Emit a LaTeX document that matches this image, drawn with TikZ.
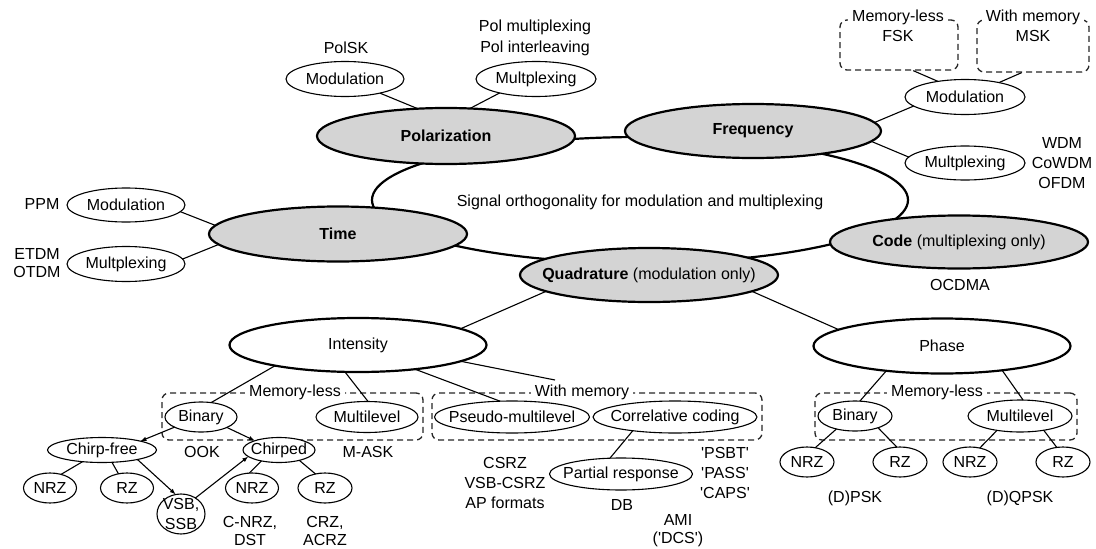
\documentclass[tikz,border=0pt]{standalone}
\usepackage{fontspec}
\setmainfont{Liberation Sans}
\usetikzlibrary{shapes.geometric,arrows.meta}
\definecolor{ellgray}{gray}{0.83}
\definecolor{dashc}{gray}{0.15}
\newcommand\mb[1]{\makebox[0pt]{#1}}
\newcommand\sq{\textquotesingle}
\begin{document}
\begin{tikzpicture}[x=1pt,y=-1pt,
  font=\fontsize{16}{20}\selectfont,
  sz/.style 2 args={minimum width=#1pt,minimum height=#2pt},
  elbase/.style={ellipse,inner sep=0pt,outer sep=0pt},
  sm/.style={elbase,draw,line width=1.1pt,fill=white},
  gr/.style={elbase,draw,line width=2.2pt,fill=ellgray},
  wh/.style={elbase,draw,line width=2.2pt,fill=white},
  dbox/.style={draw=dashc,dash pattern=on 6pt off 4pt,line width=1.3pt,rounded corners=7pt,inner sep=0pt},
  boxlab/.style={fill=white,inner xsep=4pt,inner ysep=1pt},
  lbl/.style={align=center,inner sep=0pt},
  lbltight/.style={lbl,font=\fontsize{16}{18}\selectfont},
  con/.style={line width=1.1pt},
  arr/.style={con,-{Latex[length=6pt,width=4.5pt]}},
]
\useasboundingbox (0,0) rectangle (1096,549);

% central ellipse
\node[wh,sz={536}{126}] (big) at (640,200) {};
\node[lbl] (bigt) at (640,202) {Signal orthogonality for modulation and multiplexing};

% main categories
\node[gr,sz={258}{56}] (pol) at (446,136) {\mb{\textbf{Polarization}}};
\node[gr,sz={256}{54}] (freq) at (753,131) {\mb{\textbf{Frequency}}};
\node[gr,sz={258}{55}] (time) at (338,234) {\mb{\textbf{Time}}};
\node[gr,sz={258}{54}] (quad) at (649,275) {\mb{\textbf{Quadrature} (modulation only)}};
\node[gr,sz={258}{53}] (code) at (959,242) {\mb{\textbf{Code} (multiplexing only)}};
\node[wh,sz={257}{54}] (int) at (358,345) {\mb{Intensity}};
\node[wh,sz={257}{55}] (phase) at (942,346) {\mb{Phase}};

% top small ellipses
\node[sm,sz={118}{35}] (pmod) at (345,79) {\mb{Modulation}};
\node[sm,sz={120}{35}] (pmux) at (536,79) {\mb{Multplexing}};
\node[sm,sz={120}{35}] (fmod) at (965,97) {\mb{Modulation}};
\node[sm,sz={120}{34}] (fmux) at (965,163) {\mb{Multplexing}};
\node[sm,sz={118}{34}] (tmod) at (126,205) {\mb{Modulation}};
\node[sm,sz={118}{35}] (tmux) at (126,264) {\mb{Multplexing}};

% frequency dashed boxes
\node[dbox,sz={118}{50}] (fsk) at (899,45) {};
\node[dbox,sz={112}{52}] (msk) at (1033,46) {};
\node[boxlab] (fsklab) at (898,17) {Memory-less};
\node[lbl] (fskt) at (898,36) {FSK};
\node[boxlab] (msklab) at (1033,17) {With memory};
\node[lbl] (mskt) at (1033,36) {MSK};

% bottom dashed boxes
\node[dbox,sz={261}{47}] (imlbox) at (292.5,416.5) {};
\node[dbox,sz={330}{47}] (iwmbox) at (597,416.5) {};
\node[dbox,sz={262}{47}] (pmlbox) at (946,416.5) {};
\node[boxlab] (imllab) at (295,392) {Memory-less};
\node[boxlab] (iwmlab) at (582,392) {With memory};
\node[boxlab] (pmllab) at (937,392) {Memory-less};

% intensity children
\node[sm,sz={72}{30}] (ibin) at (201,417) {\mb{Binary}};
\node[sm,sz={102}{31}] (imul) at (367,417) {\mb{Multilevel}};
\node[sm,sz={155}{32}] (pseudo) at (512,417) {\mb{Pseudo-multilevel}};
\node[sm,sz={164}{32}] (corr) at (675,417) {\mb{Correlative coding}};
\node[sm,sz={143}{32}] (partial) at (621,474) {\mb{Partial response}};
\node[sm,sz={109}{25}] (cfree) at (102,450) {\mb{Chirp-free}};
\node[sm,sz={72}{25}] (chirped) at (279,450) {\mb{Chirped}};
\node[sm,sz={53}{30}] (nrza) at (50,488) {\mb{NRZ}};
\node[sm,sz={53}{30}] (rza) at (127,488) {\mb{RZ}};
\node[sm,sz={48}{40},align=center,inner xsep=-8pt,inner ysep=-5pt] (vsb) at (181,514) {VSB,\\SSB};
\node[sm,sz={53}{30}] (nrzb) at (252,488) {\mb{NRZ}};
\node[sm,sz={54}{30}] (rzb) at (325,488) {\mb{RZ}};

% phase children
\node[sm,sz={74}{30}] (pbin) at (855,416) {\mb{Binary}};
\node[sm,sz={104}{32}] (pmul) at (1020,416) {\mb{Multilevel}};
\node[sm,sz={54}{30}] (nrzc) at (807,462) {\mb{NRZ}};
\node[sm,sz={54}{30}] (rzc) at (900,462) {\mb{RZ}};
\node[sm,sz={54}{30}] (nrzd) at (970,462) {\mb{NRZ}};
\node[sm,sz={54}{30}] (rzd) at (1063,462) {\mb{RZ}};

% free labels
\node[lbl] (polsk) at (346,48) {PolSK};
\node[lbl,font=\fontsize{16}{21}\selectfont] (polmt) at (535,37.5) {Pol multiplexing\\Pol interleaving};
\node[lbl] (wdm) at (1062,163) {WDM\\CoWDM\\OFDM};
\node[lbl] (ppm) at (42,204) {PPM};
\node[lbltight] (etdm) at (37,263.5) {ETDM\\OTDM};
\node[lbl] (ocdma) at (960,285) {OCDMA};
\node[lbl] (ook) at (202,452) {OOK};
\node[lbl] (mask) at (368,452) {M-ASK};
\node[lbltight] (cnrz) at (250,531) {C-NRZ,\\DST};
\node[lbltight] (crz) at (325,531) {CRZ,\\ACRZ};
\node[lbl] (csrz) at (505,483) {CSRZ\\VSB-CSRZ\\AP formats};
\node[lbl] (db) at (622,505) {DB};
\node[lbltight] (ami) at (678,531) {AMI\\(\sq DCS\sq)};
\node[lbl] (psbt) at (725,472.5) {\sq PSBT\sq\\\sq PASS\sq\\\sq CAPS\sq};
\node[lbl] (dpsk) at (855,498) {(D)PSK};
\node[lbl] (dqpsk) at (1020,498) {(D)QPSK};

\coordinate (wmtop) at (555,380);

% connectors
\draw[con] (pmod.-22) -- (pol.136);
\draw[con] (pmux.201) -- (pol.49);
\draw[con] (freq.4) -- (fmod.190);
\draw[con] (freq.-5) -- (fmux.174);
\draw[con] (fmod.150) -- (fsk.-61);
\draw[con] (fmod.23) -- (msk.-113);
\draw[con] (tmod.-7) -- (time.176);
\draw[con] (tmux.5) -- (time.185);
\draw[con] (quad.189) -- (int.9);
\draw[con] (quad.-9) -- (phase.171);
\draw[con] (int.194) -- (ibin.55);
\draw[con] (int.244) -- (imul.86);
\draw[con] (int.-23) -- (pseudo.127);
\draw[con] (int.-9) -- (wmtop);
\draw[arr] (ibin.201) -- (cfree.13);
\draw[arr] (ibin.-22) -- (chirped.159);
\draw[arr] (cfree.-15) -- (vsb.105);
\draw[arr] (vsb.48) -- (chirped.192);
\draw[con] (cfree.211) -- (nrza.51);
\draw[con] (cfree.-51) -- (rza.121);
\draw[con] (chirped.212) -- (nrzb.100);
\draw[con] (chirped.-27) -- (rzb.124);
\draw[con] (corr.198) -- (partial.125);
\draw[con] (phase.204) -- (pbin.72);
\draw[con] (phase.-22) -- (pmul.79);
\draw[con] (pbin.215) -- (nrzc.60);
\draw[con] (pbin.-27) -- (rzc.102);
\draw[con] (pmul.212) -- (nrzd.55);
\draw[con] (pmul.-31) -- (rzd.113);
\end{tikzpicture}
\end{document}
